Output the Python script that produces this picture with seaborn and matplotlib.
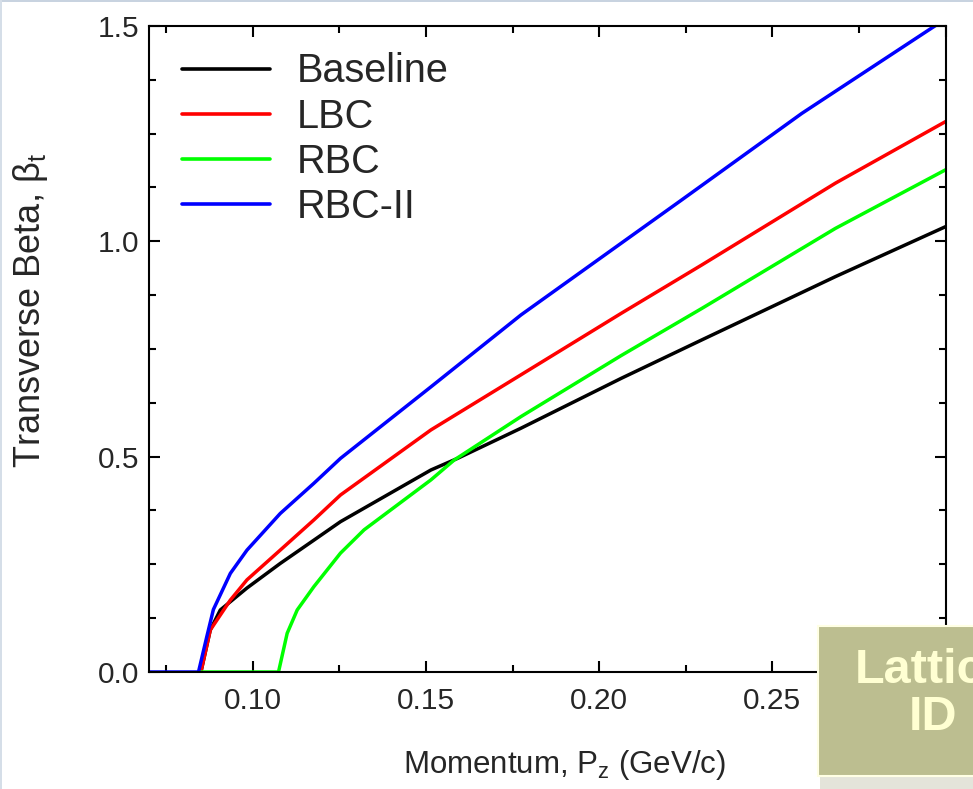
import matplotlib
matplotlib.use("Agg")
import matplotlib.pyplot as plt
import numpy as np
import pandas as pd
import seaborn as sns
from matplotlib.patches import Rectangle
from matplotlib.ticker import MultipleLocator, FormatStrFormatter, FixedLocator

# ---------------- data ----------------
series_names = ["Baseline", "LBC", "RBC", "RBC-II"]
series_colors = ["#000000", "#FF0000", "#00FF00", "#0000FF"]

baseline_x = [0.085, 0.0877, 0.0906, 0.0983, 0.1079, 0.1176, 0.1253, 0.1514,
              0.1591, 0.1774, 0.2064, 0.2296, 0.2682, 0.300]
baseline_y = [0.0, 0.0975, 0.144, 0.195, 0.252, 0.306, 0.349, 0.469,
              0.496, 0.566, 0.682, 0.771, 0.918, 1.034]

lbc_x = [0.085, 0.0877, 0.0935, 0.0983, 0.1079, 0.1176, 0.1253, 0.1514,
         0.1774, 0.2064, 0.2296, 0.2682, 0.300]
lbc_y = [0.0, 0.0975, 0.167, 0.214, 0.283, 0.353, 0.411, 0.562,
         0.690, 0.833, 0.945, 1.135, 1.278]

rbc_x = [0.085, 0.1074, 0.1099, 0.1128, 0.1176, 0.1253, 0.1321, 0.1514,
         0.1581, 0.1774, 0.2064, 0.2296, 0.2682, 0.300]
rbc_y = [0.0, 0.0, 0.0898, 0.144, 0.198, 0.276, 0.330, 0.446,
         0.492, 0.593, 0.735, 0.844, 1.030, 1.166]

rbc2_x = [0.070, 0.0843, 0.0867, 0.0886, 0.0935, 0.0983, 0.1079, 0.1176,
          0.1253, 0.1514, 0.1774, 0.2238, 0.2585, 0.2952, 0.300]
rbc2_y = [0.0, 0.0, 0.082, 0.145, 0.229, 0.283, 0.368, 0.438,
          0.496, 0.662, 0.829, 1.096, 1.297, 1.491, 1.516]

# visible x tick labels (the 0.30 position is hidden under the box)
x_tick_values = [0.10, 0.15, 0.20, 0.25, 0.30]
x_tick_labels = ["0.10", "0.15", "0.20", "0.25", ""]
x_ticks_minor = 0.025
y_ticks_major = 0.5
y_ticks_minor = 0.125

xs = [baseline_x, lbc_x, rbc_x, rbc2_x]
ys = [baseline_y, lbc_y, rbc_y, rbc2_y]
df = pd.concat(
    [pd.DataFrame({"Momentum": x, "Beta": y, "Lattice": n})
     for n, x, y in zip(series_names, xs, ys)],
    ignore_index=True,
)

# ---------------- style ----------------
sns.set_theme(style="ticks")
plt.rcParams["font.family"] = ["Liberation Sans", "DejaVu Sans"]
plt.rcParams["mathtext.default"] = "regular"

fig = plt.figure(figsize=(9.73, 7.89), dpi=100)
fig.patch.set_facecolor("white")
ax = fig.add_axes([0.1531, 0.1483, 0.8187, 0.8188])
ax.set_facecolor("white")

sns.lineplot(
    data=df, x="Momentum", y="Beta", hue="Lattice",
    hue_order=series_names, palette=series_colors,
    linewidth=2.5, errorbar=None, sort=True, ax=ax,
)

ax.set_xlim(0.07, 0.30)
ax.set_ylim(0.0, 1.5)
ax.set_xticks(x_tick_values)
ax.set_xticklabels(x_tick_labels)
ax.xaxis.set_minor_locator(MultipleLocator(x_ticks_minor))
ax.yaxis.set_major_locator(MultipleLocator(y_ticks_major))
ax.yaxis.set_minor_locator(MultipleLocator(y_ticks_minor))
ax.yaxis.set_major_formatter(FormatStrFormatter("%.1f"))

ax.tick_params(which="both", direction="in", top=True, right=True,
               width=1.5, color="black")
ax.tick_params(which="major", length=8, labelsize=21.5, pad=7)
ax.tick_params(axis="x", which="major", pad=11)
ax.tick_params(which="minor", length=5)
for s in ax.spines.values():
    s.set_linewidth(1.5)
    s.set_color("black")

ax.set_xlabel("Momentum, P$_{z}$ (GeV/c)", fontsize=22.5)
ax.set_ylabel("Transverse Beta, β$_{t}$", fontsize=26)
ax.xaxis.set_label_coords(0.522, -0.118)
ax.yaxis.set_label_coords(-0.124, 0.56)

handles, labels = ax.get_legend_handles_labels()
leg = ax.legend(handles, labels, loc="upper left", frameon=False,
                bbox_to_anchor=(0.042, 0.959), borderaxespad=0, borderpad=0,
                fontsize=28.5, handlelength=2.2, handletextpad=0.7,
                labelspacing=0.18)
for h in leg.get_lines():
    h.set_linewidth(2.6)

# ---------------- decorations outside the plot ----------------
W, H = 973.0, 789.0
fig.add_artist(Rectangle((0, 1 - 2 / H), 1, 2 / H, transform=fig.transFigure,
                         facecolor="#C8D3E0", edgecolor="none", zorder=10))
fig.add_artist(Rectangle((0, 0), 2 / W, 1, transform=fig.transFigure,
                         facecolor="#D5DEE8", edgecolor="none", zorder=10))
fig.add_artist(Rectangle((820 / W, 0), 1 - 820 / W, 13 / H, transform=fig.transFigure,
                         facecolor="#E4E4DA", edgecolor="none", zorder=10))
fig.add_artist(Rectangle((818 / W, 13 / H), 1 - 818 / W + 0.01, 150 / H,
                         transform=fig.transFigure, facecolor="#BCBE90",
                         edgecolor="#FFFFE4", linewidth=1.5, zorder=10))
fig.text(933 / W, 1 - 694 / H, "Lattice\nID", ha="center", va="center",
         multialignment="center", linespacing=1.05,
         fontsize=35, fontweight="bold", color="#FFFFD2", zorder=11)

fig.savefig("out.png", dpi=100)
